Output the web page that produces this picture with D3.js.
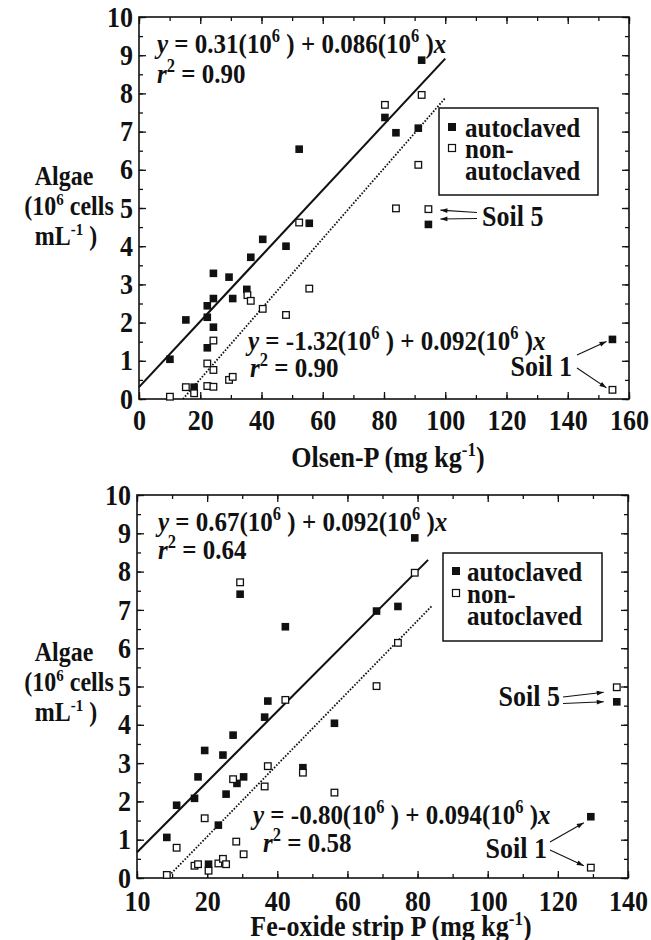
<!DOCTYPE html>
<html><head><meta charset="utf-8">
<script src="https://cdn.jsdelivr.net/npm/d3@7"></script>
<style>
body{margin:0;background:#fff}
svg{display:block}
text{font-family:"Liberation Serif","Times New Roman",serif;font-weight:bold;fill:#111}
</style>
</head><body>
<svg id="c" width="651" height="940"></svg>
<script>
// ---------- DATA ----------
// Panel A: Olsen-P (mg/kg) vs Algae (10^6 cells/mL)
const olsenAuto = [[10.1,1.04],[15.3,2.07],[18.0,0.31],[22.3,1.34],[22.3,2.14],[22.3,2.44],[24.3,1.88],[24.3,2.63],[24.3,3.29],[29.4,3.19],[30.6,2.63],[35.2,2.87],[36.5,3.71],[40.4,4.18],[48.0,4.00],[55.6,4.60],[52.3,6.54],[80.3,7.37],[83.9,6.97],[91.2,7.09],[92.3,8.87],[94.5,4.57],[154.6,1.56]];
const olsenNon  = [[10.1,0.06],[15.3,0.31],[18.0,0.15],[22.3,0.34],[24.3,0.32],[22.3,0.93],[24.3,0.76],[24.3,1.53],[29.4,0.50],[30.6,0.58],[35.4,2.72],[36.5,2.57],[40.4,2.36],[48.0,2.20],[55.6,2.89],[52.3,4.62],[80.3,7.70],[92.3,7.96],[91.2,6.13],[83.9,4.99],[94.5,4.97],[154.6,0.24]];
// Panel B: Fe-oxide strip P (mg/kg) vs Algae
const feAuto = [[42.3,6.56],[37.3,4.62],[36.4,4.20],[27.4,3.73],[19.3,3.33],[24.5,3.21],[17.4,2.64],[30.4,2.64],[28.5,2.47],[47.3,2.88],[16.4,2.08],[25.4,2.19],[11.3,1.90],[23.2,1.38],[8.5,1.06],[20.4,0.36],[56.3,4.04],[29.4,7.41],[68.3,6.97],[79.2,8.88],[74.4,7.09],[136.8,4.60],[129.4,1.60]];
const feNon  = [[42.3,4.65],[37.3,2.92],[36.4,2.39],[27.4,2.58],[47.3,2.75],[56.3,2.23],[19.3,1.56],[11.3,0.79],[28.3,0.95],[30.4,0.62],[8.5,0.08],[16.4,0.32],[17.4,0.36],[20.4,0.19],[23.2,0.38],[24.5,0.50],[25.4,0.36],[29.4,7.72],[68.3,5.01],[79.2,7.97],[74.4,6.14],[136.8,4.98],[129.4,0.27]];
// regression fits: intercept, slope, x-range
const olsenFits = [{a:0.31,b:0.086,x0:0,x1:100,dash:false},{a:-1.32,b:0.092,x0:14.35,x1:100,dash:true}];
const feFits    = [{a:0.67,b:0.092,x0:0,x1:83,dash:false},{a:-0.80,b:0.094,x0:8.5,x1:84,dash:true}];
// ticks
const olsenXTicks = [0,20,40,60,80,100,120,140,160];
const olsenXLabels = ["0","20","40","60","80","100","120","140","160"];
const feXTicks = [0,20,40,60,80,100,120,140];
const feXLabels = ["10","20","40","60","80","100","120","140"];
const yTicks = [0,1,2,3,4,5,6,7,8,9,10];
const yLabels = ["0","1","2","3","4","5","6","7","8","9","10"];
// texts
const olsenEq = [["y = 0.31(10","6"," ) + 0.086(10","6"," )x"],["r","2"," = 0.90"],["y = -1.32(10","6"," ) + 0.092(10","6"," )x"],["r","2"," = 0.90"]];
const feEq    = [["y = 0.67(10","6"," ) + 0.092(10","6"," )x"],["r","2"," = 0.64"],["y = -0.80(10","6"," ) + 0.094(10","6"," )x"],["r","2"," = 0.58"]];
const legendLabels = ["autoclaved","non-","autoclaved"];

// ---------- DRAW ----------
const svg = d3.select("#c");
svg.append("defs").append("marker").attr("id","ah").attr("viewBox","0 0 10 10")
  .attr("refX",10).attr("refY",5).attr("markerWidth",8).attr("markerHeight",7)
  .attr("orient","auto").attr("markerUnits","userSpaceOnUse")
  .append("path").attr("d","M0,1.5L10,5L0,8.5Z").attr("fill","#111");

function rich(sel, parts, fs){
  parts.forEach((p,i)=>{
    if(i%2===1){
      sel.append("tspan").attr("dy",-10).attr("font-size",fs*0.66).text(p);
    } else {
      let s=p;
      const t0 = sel.append("tspan");
      if(i>0) t0.attr("dy",10);
      if(i===0 && (s[0]==="y"||s[0]==="r")){
        t0.attr("font-style","italic").text(s[0]); s=s.slice(1);
        if(s.length) sel.append("tspan").text(s);
      } else if(s.endsWith("x")){
        t0.text(s.slice(0,-1));
        sel.append("tspan").attr("font-style","italic").text("x");
      } else t0.text(s);
    }
  });
}

function panel(cfg){
  const {L,T,R,B} = cfg;
  const x = d3.scaleLinear().domain(cfg.xDomain).range([L,R]);
  const y = d3.scaleLinear().domain([0,10]).range([B,T]);
  const g = svg.append("g");
  const minorX = d3.range(cfg.xDomain[0], cfg.xDomain[1]+0.01, 10);
  const minorY = d3.range(0,10.01,0.5);
  const ax = (gen, tr, vals, size, fmt, pad) => {
    const a = g.append("g").attr("transform",tr)
      .call(gen.tickValues(vals).tickSize(size).tickPadding(pad||0).tickFormat(fmt||(()=> "")));
    a.select(".domain").remove();
    a.attr("font-family",null).attr("font-size",null);
    a.selectAll("line").attr("stroke","#111").attr("stroke-width",1.3);
    a.selectAll("text").attr("font-size",26).attr("fill","#111");
    return a;
  };
  ax(d3.axisBottom(x),`translate(0,${B})`,minorX,-4);
  ax(d3.axisBottom(x),`translate(0,${B})`,cfg.xTicks,-7,(d,i)=>cfg.xLabels[i],cfg.xPad);
  ax(d3.axisTop(x),`translate(0,${T})`,minorX,-4);
  ax(d3.axisTop(x),`translate(0,${T})`,cfg.xTicks,-7);
  ax(d3.axisLeft(y),`translate(${L},0)`,minorY,-4);
  ax(d3.axisLeft(y),`translate(${L},0)`,yTicks,-7,(d,i)=>yLabels[i],6);
  ax(d3.axisRight(y),`translate(${R},0)`,minorY,-4);
  ax(d3.axisRight(y),`translate(${R},0)`,yTicks,-7);
  g.append("rect").attr("x",L).attr("y",T).attr("width",R-L).attr("height",B-T)
    .attr("fill","none").attr("stroke","#111").attr("stroke-width",1.6);

  // fits
  cfg.fits.forEach(f=>{
    g.append("line").attr("x1",x(f.x0)).attr("y1",y(f.a+f.b*f.x0))
      .attr("x2",x(f.x1)).attr("y2",y(f.a+f.b*f.x1))
      .attr("stroke","#111").attr("stroke-width",f.dash?1.8:2.1)
      .attr("stroke-dasharray",f.dash?"1.6,1.6":null);
  });
  // points
  const s=7.6;
  g.selectAll(".a").data(cfg.auto).join("rect")
    .attr("x",d=>x(d[0])-s/2).attr("y",d=>y(d[1])-s/2).attr("width",s).attr("height",s).attr("fill","#111");
  const so=6.6;
  g.selectAll(".n").data(cfg.non).join("rect")
    .attr("x",d=>x(d[0])-so/2).attr("y",d=>y(d[1])-so/2).attr("width",so).attr("height",so)
    .attr("fill","#fff").attr("stroke","#111").attr("stroke-width",1.3);

  // equations
  cfg.eqPos.forEach((p,i)=>{
    const t=g.append("text").attr("x",p[0]).attr("y",p[1]).attr("font-size",25);
    rich(t,cfg.eq[i],25);
  });
  // legend
  const lg=cfg.leg;
  g.append("rect").attr("x",lg.x).attr("y",lg.y).attr("width",lg.w).attr("height",lg.h)
    .attr("fill","#fff").attr("stroke","#111").attr("stroke-width",1.5);
  g.append("rect").attr("x",lg.mx-4).attr("y",lg.b[0]-13).attr("width",8).attr("height",8).attr("fill","#111");
  g.append("rect").attr("x",lg.mx-3.5).attr("y",lg.b[1]-12.5).attr("width",7).attr("height",7)
    .attr("fill","#fff").attr("stroke","#111").attr("stroke-width",1.2);
  legendLabels.forEach((s,i)=>g.append("text").attr("x",lg.tx).attr("y",lg.b[i]).attr("font-size",25).text(s));

  // Soil annotations
  cfg.notes.forEach(n=>{
    g.append("text").attr("x",n.tx).attr("y",n.ty).attr("text-anchor",n.anchor).attr("font-size",26).text(n.label);
    n.arrows.forEach(a=>{
      const pt=a.pt;
      g.append("line").attr("x1",a.from[0]).attr("y1",a.from[1])
        .attr("x2",x(pt[0])+a.off[0]).attr("y2",y(pt[1])+a.off[1])
        .attr("stroke","#111").attr("stroke-width",1.1).attr("marker-end","url(#ah)");
    });
  });

  // axis titles
  const xt=g.append("text").attr("x",cfg.xTitle.x).attr("y",cfg.xTitle.y).attr("text-anchor","middle").attr("font-size",26);
  xt.append("tspan").text(cfg.xTitle.t);
  xt.append("tspan").attr("dy",-10).attr("font-size",17).text("-1");
  xt.append("tspan").attr("dy",10).text(")");
  const yt=cfg.yTitle;
  g.append("text").attr("x",yt.x).attr("y",yt.y).attr("text-anchor","middle").attr("font-size",24).text("Algae");
  const l2=g.append("text").attr("x",yt.x+5).attr("y",yt.y+30).attr("text-anchor","middle").attr("font-size",24);
  l2.append("tspan").text("(10"); l2.append("tspan").attr("dy",-9).attr("font-size",15).text("6");
  l2.append("tspan").attr("dy",9).text(" cells");
  const l3=g.append("text").attr("x",yt.x+2).attr("y",yt.y+60).attr("text-anchor","middle").attr("font-size",24);
  l3.append("tspan").text("mL"); l3.append("tspan").attr("dy",-9).attr("font-size",15).text("-1");
  l3.append("tspan").attr("dy",9).text(" )");
}

panel({L:139,T:17,R:629,B:399,xDomain:[0,160],xTicks:olsenXTicks,xLabels:olsenXLabels,xPad:12,
  auto:olsenAuto,non:olsenNon,fits:olsenFits,eq:olsenEq,
  eqPos:[[157,52],[157,82],[248,349],[250,376]],
  leg:{x:439,y:108,w:159,h:87,mx:452,tx:465,b:[136,157,179]},
  notes:[
    {label:"Soil 5",tx:482,ty:225,anchor:"start",arrows:[
      {from:[477,212.5],pt:[94.5,4.97],off:[12,1]},
      {from:[477,218.5],pt:[94.5,4.57],off:[12,-5.5]}]},
    {label:"Soil 1",tx:572,ty:375,anchor:"end",arrows:[
      {from:[577,355],pt:[154.6,1.56],off:[-6,2]},
      {from:[577,368],pt:[154.6,0.24],off:[-6,-2]}]}
  ],
  xTitle:{x:388,y:466,t:"Olsen-P (mg kg"},
  yTitle:{x:64,y:184}
});

panel({L:137,T:495,R:628,B:878,xDomain:[0,140],xTicks:feXTicks,xLabels:feXLabels,xPad:14,
  auto:feAuto,non:feNon,fits:feFits,eq:feEq,
  eqPos:[[158,530],[158,558],[253,823],[263,851]],
  leg:{x:443,y:553,w:159,h:88,mx:456,tx:467,b:[580,602,624]},
  notes:[
    {label:"Soil 5",tx:560,ty:705,anchor:"end",arrows:[
      {from:[563,697],pt:[136.8,4.98],off:[-13,5]},
      {from:[563,703.5],pt:[136.8,4.60],off:[-13,0]}]},
    {label:"Soil 1",tx:547,ty:857,anchor:"end",arrows:[
      {from:[550,842],pt:[129.4,1.60],off:[-7,6]},
      {from:[550,850],pt:[129.4,0.27],off:[-7,-2]}]}
  ],
  xTitle:{x:391,y:935,t:"Fe-oxide strip P (mg kg"},
  yTitle:{x:64,y:660}
});

// stretch all text vertically a little (reference lettering is tall and narrow)
svg.selectAll("text").each(function(){
  const b=this.getBBox(); const cy=b.y+b.height/2;
  const t=d3.select(this).attr("transform")||"";
  d3.select(this).attr("transform",`${t} translate(0,${cy}) scale(1,1.1) translate(0,${-cy})`);
});
</script>
</body></html>
